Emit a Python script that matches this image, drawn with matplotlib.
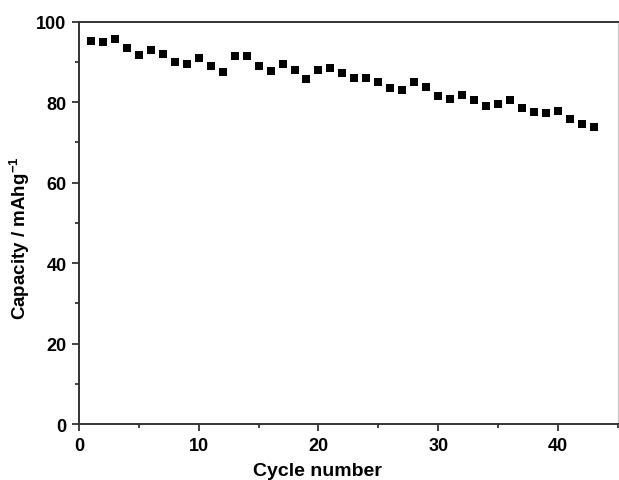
import matplotlib.pyplot as plt
from matplotlib.ticker import MultipleLocator

plt.rcParams['font.family'] = ['Liberation Sans', 'DejaVu Sans']

cycles = list(range(1, 44))
capacity = [95.3, 94.9, 95.7, 93.5, 91.7, 92.9, 92.0, 90.1, 89.6, 91.1,
            88.9, 87.6, 91.4, 91.4, 88.9, 87.8, 89.6, 88.1, 85.8, 88.1,
            88.6, 87.2, 86.0, 86.1, 85.1, 83.4, 83.1, 85.0, 83.7, 81.6,
            80.7, 81.9, 80.6, 79.0, 79.6, 80.5, 78.5, 77.5, 77.4, 77.9,
            75.7, 74.5, 73.9]

fig = plt.figure(figsize=(6.19, 4.81), dpi=100)
ax = fig.add_axes([0.1276, 0.1164, 0.8705, 0.8364])

ax.plot(cycles, capacity, 's', color='black', markersize=5.2, markeredgewidth=0)

ax.set_xlim(0, 45)
ax.set_ylim(0, 100)
ax.xaxis.set_major_locator(MultipleLocator(10))
ax.xaxis.set_minor_locator(MultipleLocator(5))
ax.yaxis.set_major_locator(MultipleLocator(20))
ax.yaxis.set_minor_locator(MultipleLocator(10))
ax.tick_params(which='both', direction='out', width=1.3, color='#333333')
ax.tick_params(which='major', length=5, labelsize=13, pad=4)
ax.tick_params(which='minor', length=3)
for lab in ax.get_xticklabels() + ax.get_yticklabels():
    lab.set_fontweight('bold')

for side in ['left', 'bottom', 'top']:
    ax.spines[side].set_linewidth(1.4)
    ax.spines[side].set_color('#333333')
ax.spines['right'].set_color('#cccccc')
ax.spines['right'].set_linewidth(1.0)

ax.set_xlabel('Cycle number', fontsize=14, fontweight='bold')
ax.set_ylabel('Capacity / mAhg$\\mathregular{^{-1}}$', fontsize=13.5, fontweight='bold')
ax.xaxis.set_label_coords(0.443, -0.095)
ax.yaxis.set_label_coords(-0.088, 0.465)

fig.savefig('out.png', dpi=100)
